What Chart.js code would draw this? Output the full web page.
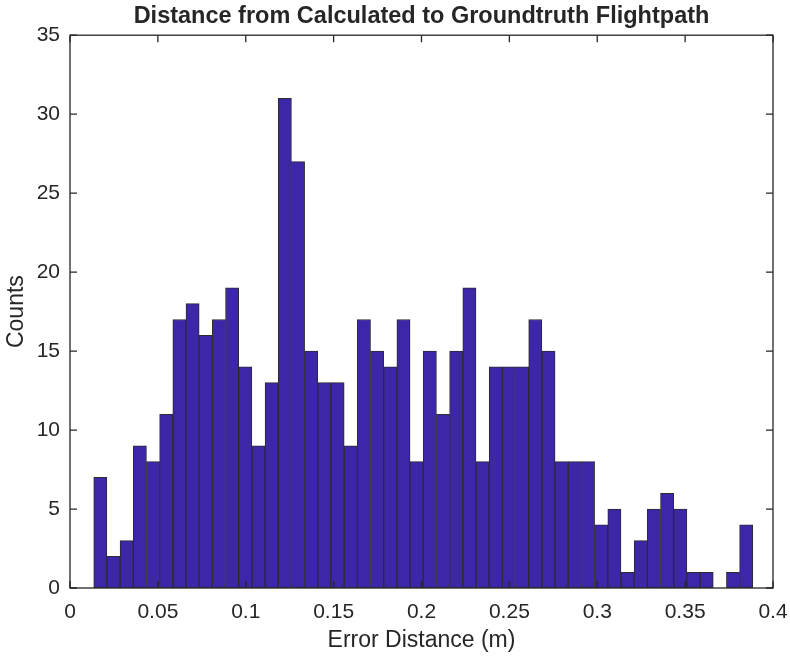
<!DOCTYPE html>
<html>
<head>
<meta charset="utf-8">
<script src="https://cdn.jsdelivr.net/npm/chart.js@4"></script>
<style>
  html, body { margin: 0; padding: 0; background: #fff; }
  #wrap { width: 790px; height: 660px; }
</style>
</head>
<body>
<div id="wrap"><canvas id="histChart" width="790" height="660"></canvas></div>
<script>
// histogram counts, one per bin (left to right)
const counts = [
  7, 2, 3, 9, 8, 11, 17, 18, 16, 17,
  19, 14, 9, 13, 31, 27, 15, 13, 13, 9,
  17, 15, 14, 17, 8, 15, 11, 15, 19, 8,
  14, 14, 14, 17, 15, 8, 8, 8, 4, 5,
  1, 3, 5, 6, 5, 1, 1, 0, 1, 4
];
const binStart = 0.0135;   // left edge of first bin (m)
const binWidth = 0.0075;   // bin width (m)
const xTicks = [0, 0.05, 0.1, 0.15, 0.2, 0.25, 0.3, 0.35, 0.4];
const yTicks = [0, 5, 10, 15, 20, 25, 30, 35];

const titleText = "Distance from Calculated to Groundtruth Flightpath";
const xLabel = "Error Distance (m)";
const yLabel = "Counts";

const points = counts.map((c, i) => ({ x: binStart + binWidth * (i + 0.5), y: c }));

const textColor = "#262626";
const fontFamily = "'Liberation Sans', Arial, Helvetica, sans-serif";

// MATLAB style box with inward ticks
const axesBox = {
  id: "axesBox",
  afterDraw(chart) {
    const { ctx, chartArea: a, scales: { x, y } } = chart;
    const L = a.left, R = a.right, T = a.top, B = a.bottom;
    const len = 7;
    ctx.save();
    ctx.strokeStyle = textColor;
    ctx.lineWidth = 1.3;
    ctx.strokeRect(L, T, R - L, B - T);
    ctx.beginPath();
    xTicks.forEach(v => {
      const px = x.getPixelForValue(v);
      ctx.moveTo(px, B); ctx.lineTo(px, B - len);
      ctx.moveTo(px, T); ctx.lineTo(px, T + len);
    });
    yTicks.forEach(v => {
      const py = y.getPixelForValue(v);
      ctx.moveTo(L, py); ctx.lineTo(L + len, py);
      ctx.moveTo(R, py); ctx.lineTo(R - len, py);
    });
    ctx.stroke();
    ctx.restore();
  }
};

new Chart(document.getElementById("histChart"), {
  type: "bar",
  data: {
    datasets: [{
      data: points,
      backgroundColor: "rgb(62, 38, 168)",
      borderColor: "#2b2b33",
      borderWidth: 1,
      borderSkipped: false,
      barPercentage: 1,
      categoryPercentage: 1
    }]
  },
  options: {
    responsive: false,
    animation: false,
    events: [],
    layout: { padding: { left: 0, right: 17, top: 0, bottom: 0 } },
    plugins: {
      legend: { display: false },
      tooltip: { enabled: false },
      title: {
        display: true,
        fullSize: false,
        text: titleText,
        color: textColor,
        font: { family: fontFamily, size: 23.5, weight: "bold", lineHeight: 1.2 },
        padding: { top: 2, bottom: 5 }
      }
    },
    scales: {
      x: {
        type: "linear",
        min: 0,
        max: 0.4,
        offset: false,
        grid: { display: false, drawTicks: false, offset: false },
        border: { display: false },
        afterBuildTicks: s => { s.ticks = xTicks.map(v => ({ value: v })); },
        afterFit: s => { s.height = 72; s.paddingLeft = 0; s.paddingRight = 0; },
        ticks: {
          color: textColor,
          padding: 12,
          maxRotation: 0,
          font: { family: fontFamily, size: 21 },
          callback: v => String(+v.toFixed(2))
        },
        title: {
          display: true,
          text: xLabel,
          color: textColor,
          font: { family: fontFamily, size: 23 },
          padding: { top: 0, bottom: 6 }
        }
      },
      y: {
        min: 0,
        max: 35,
        grid: { display: false, drawTicks: false },
        border: { display: false },
        afterBuildTicks: s => { s.ticks = yTicks.map(v => ({ value: v })); },
        afterFit: s => { s.width = 70; s.paddingTop = 0; s.paddingBottom = 0; },
        ticks: {
          color: textColor,
          padding: 10,
          font: { family: fontFamily, size: 21 }
        },
        title: {
          display: true,
          text: yLabel,
          color: textColor,
          font: { family: fontFamily, size: 23 },
          padding: { top: 3, bottom: 0 }
        }
      }
    }
  },
  plugins: [axesBox]
});
</script>
</body>
</html>
